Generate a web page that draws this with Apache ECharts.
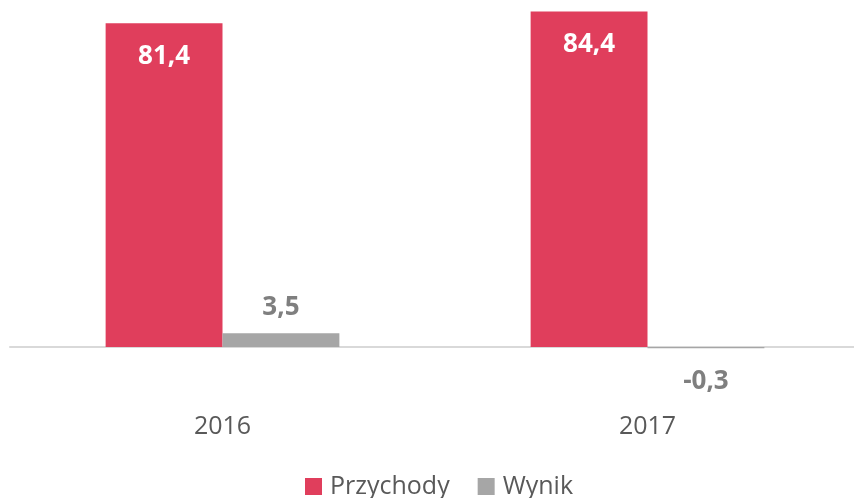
<!DOCTYPE html>
<html>
<head>
<meta charset="utf-8">
<script src="https://cdn.jsdelivr.net/npm/echarts@6/dist/echarts.min.js"></script>
<style>
  html, body { margin: 0; padding: 0; background: #fff; }
</style>
</head>
<body>
<div id="chart" style="width: 854px; height: 498px;"></div>
<script>
  // lata
  var years = ['2016', '2017'];
  // przychody i wynik
  var przychody = [81.4, 84.4];
  var wynik = [3.5, -0.3];

  var font = '"Open Sans", "Liberation Sans", sans-serif';
  var fmt = function (p) {
    return String(p.value).replace('.', ',');
  };

  var myChart = echarts.init(document.getElementById('chart'));
  var option = {
    animation: false,
    textStyle: { fontFamily: font },
    grid: {
      left: 10,
      width: 850,
      top: 9,
      height: 358,
      outerBoundsMode: 'none'
    },
    legend: {
      bottom: -1,
      padding: 0,
      left: 305,
      itemWidth: 17,
      itemHeight: 17,
      itemGap: 28,
      icon: 'rect',
      textStyle: { fontSize: 25, color: '#595959', fontFamily: font, padding: [0, 0, 0, 3] },
      data: ['Przychody', 'Wynik']
    },
    xAxis: {
      type: 'category',
      data: years,
      axisLine: { onZero: true, lineStyle: { color: '#d9d9d9', width: 2 } },
      axisTick: { show: false },
      axisLabel: { margin: 47, fontSize: 25, color: '#595959', fontFamily: font }
    },
    yAxis: {
      type: 'value',
      min: -5,
      max: 85,
      show: false,
      splitLine: { show: false }
    },
    series: [{
      name: 'Przychody',
      type: 'bar',
      data: przychody,
      barGap: '0%',
      barCategoryGap: '45%',
      itemStyle: { color: '#e03e5c' },
      label: {
        show: true,
        position: 'insideTop',
        distance: 20,
        formatter: fmt,
        color: '#fff',
        fontWeight: 'bold',
        fontSize: 26,
        fontFamily: font
      }
    }, {
      name: 'Wynik',
      type: 'bar',
      data: wynik.map(function (v) {
        if (v < 0) {
          return { value: v, label: { position: 'bottom', distance: 20 } };
        }
        return v;
      }),
      itemStyle: { color: '#a6a6a6' },
      label: {
        show: true,
        position: 'top',
        distance: 13,
        formatter: fmt,
        color: '#7f7f7f',
        fontWeight: 'bold',
        fontSize: 26,
        fontFamily: font
      }
    }]
  };
  myChart.setOption(option);
</script>
</body>
</html>
